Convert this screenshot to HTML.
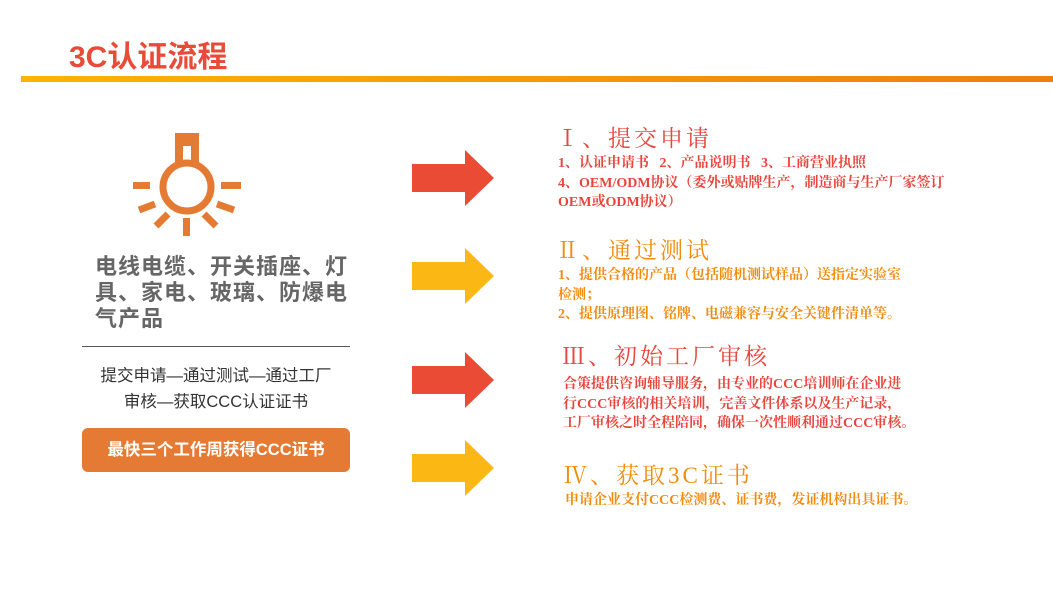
<!DOCTYPE html>
<html><head><meta charset="utf-8"><style>
body{margin:0;width:1053px;height:589px;background:#fff;position:relative;overflow:hidden;font-family:"Liberation Sans","Noto Sans CJK SC",sans-serif}
.a{position:absolute;white-space:nowrap}
.h{font-family:"Liberation Serif","Noto Serif CJK SC",serif;font-size:23px;letter-spacing:3px}
.t{font-family:"Liberation Serif","Noto Serif CJK SC",serif;font-size:14px;font-weight:bold;line-height:19.5px}
.r{color:#e8453c}.o{color:#f28c0e}
</style></head><body>
<div class="a" style="left:69px;top:32px;font-size:30px;font-weight:bold;color:#e84c38">3C认证流程</div>
<div class="a" style="left:21px;top:76px;width:1032px;height:6px;background:linear-gradient(to right,#fbb400,#f07d10)"></div>
<svg class="a" style="left:0;top:0" width="300" height="250">
<g fill="#e57b33">
<rect x="175" y="133" width="24" height="13"/><rect x="175" y="133" width="8" height="32"/><rect x="191" y="133" width="8" height="32"/>
<rect x="133" y="182" width="17" height="7"/><rect x="221" y="182" width="20" height="7"/>
<rect x="183" y="218" width="7" height="18"/>
</g>
<circle cx="187" cy="187" r="24" fill="none" stroke="#e57b33" stroke-width="7"/>
<g stroke="#e57b33" stroke-width="7">
<line x1="139" y1="210" x2="155" y2="204"/><line x1="217" y1="204" x2="234" y2="210"/>
<line x1="156" y1="226" x2="168" y2="214"/><line x1="204" y1="214" x2="216" y2="226"/>
</g></svg>
<div class="a" style="left:95px;top:254px;font-size:22px;font-weight:bold;color:#666;line-height:26px;letter-spacing:1px;white-space:normal;width:262px">电线电缆、开关插座、灯具、家电、玻璃、防爆电气产品</div>
<div class="a" style="left:82px;top:346px;width:268px;height:1px;background:#555"></div>
<div class="a" style="left:82px;top:363px;width:268px;text-align:center;font-size:16.5px;color:#333;line-height:26px">提交申请—通过测试—通过工厂<br>审核—获取CCC认证证书</div>
<div class="a" style="left:82px;top:428px;width:268px;height:44px;border-radius:6px;background:#e47a33;color:#fff;font-weight:bold;font-size:16.5px;text-align:center;line-height:44px">最快三个工作周获得CCC证书</div>
<svg class="a" style="left:410px;top:150px" width="90" height="350" viewBox="0 0 90 350">
<polygon points="2,14 55,14 55,0 84,28 55,56 55,42 2,42" fill="#e94b35"/>
<polygon points="2,112 55,112 55,98 84,126 55,154 55,140 2,140" fill="#fbb714"/>
<polygon points="2,216 55,216 55,202 84,230 55,258 55,244 2,244" fill="#e94b35"/>
<polygon points="2,304 55,304 55,290 84,318 55,346 55,332 2,332" fill="#fbb714"/>
</svg>
<div class="a h r" style="left:556px;top:120px">Ⅰ、提交申请</div>
<div class="a t r" style="left:558px;top:154px">1、认证申请书&nbsp;&nbsp;&nbsp;2、产品说明书&nbsp;&nbsp;&nbsp;3、工商营业执照<br>4、OEM/ODM协议（委外或贴牌生产，制造商与生产厂家签订<br>OEM或ODM协议）</div>
<div class="a h o" style="left:556px;top:232px">Ⅱ、通过测试</div>
<div class="a t o" style="left:558px;top:266px">1、提供合格的产品（包括随机测试样品）送指定实验室<br>检测；<br>2、提供原理图、铭牌、电磁兼容与安全关键件清单等。</div>
<div class="a h r" style="left:562px;top:338px">Ⅲ、初始工厂审核</div>
<div class="a t r" style="left:563px;top:375px">合策提供咨询辅导服务，由专业的CCC培训师在企业进<br>行CCC审核的相关培训，完善文件体系以及生产记录，<br>工厂审核之时全程陪同，确保一次性顺利通过CCC审核。</div>
<div class="a h o" style="left:564px;top:457px">Ⅳ、获取3C证书</div>
<div class="a t o" style="left:565px;top:491px">申请企业支付CCC检测费、证书费，发证机构出具证书。</div>
</body></html>
